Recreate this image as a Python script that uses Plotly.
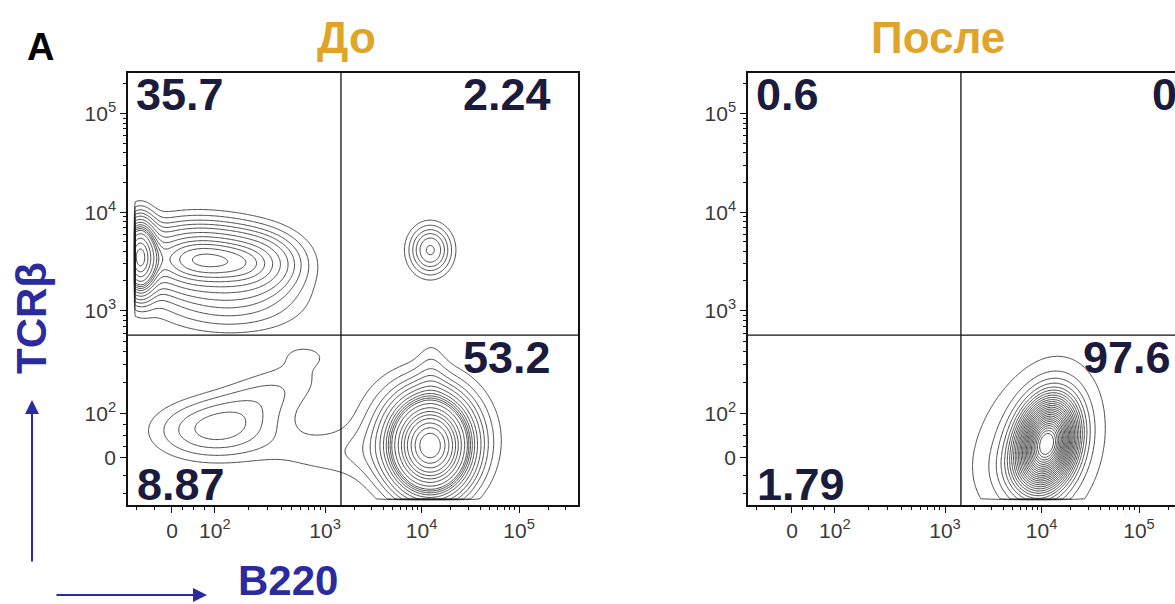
import numpy as np
import plotly.graph_objects as go

W, H = 1175, 604

# ---- axis scale (biexponential display units) ----
x_tick_vals = [0.0, 0.44, 1.57, 2.56, 3.56]
y_tick_vals = [0.0, 0.45, 1.49, 2.48, 3.48]
tick_text = ["0", "10<sup>2</sup>", "10<sup>3</sup>", "10<sup>4</sup>", "10<sup>5</sup>"]

x_range_pre = [-0.451, 4.164]
x_range_post = [-0.451, 3.929]
y_range = [-0.475, 3.889]

# off-scale floor where events pile up against the axes
x_floor = -0.38
y_floor = -0.42

# quadrant gate positions
gate_x = 1.733
gate_y = 1.242

# ---- populations, "До" (B220 x TCRb) ----
pre_cx = [-0.33, 0.25, 0.88, 0.60, 2.65, 2.65, 2.60, 2.66, 0.45, 0.90, 1.35, 1.60, 2.60]
pre_cy = [2.03, 2.01, 1.96, 1.55, 2.10, 0.12, 0.20, 0.85, 0.28, 0.60, 1.05, 0.05, 2.10]
pre_sx = [0.10, 0.42, 0.30, 0.50, 0.13, 0.22, 0.38, 0.10, 0.42, 0.45, 0.22, 0.45, 0.30]
pre_sy = [0.22, 0.22, 0.20, 0.20, 0.15, 0.26, 0.38, 0.25, 0.20, 0.25, 0.10, 0.18, 0.30]
pre_rho = [0.0, 0.0, 0.0, 0.0, 0.0, 0.0, 0.0, 0.0, 0.0, 0.6, 0.0, 0.0, 0.0]
pre_w = [8.0, 18.0, 5.7, 4.0, 1.9, 38.5, 14.3, 0.4, 4.5, 2.6, 0.25, 1.52, 0.34]

# ---- populations, "После" ----
post_cx = [2.62, 2.47, 2.30, 0.40, 0.30]
post_cy = [0.15, 0.08, -0.15, 0.20, 2.20]
post_sx = [0.20, 0.30, 0.20, 0.60, 0.60]
post_sy = [0.30, 0.36, 0.20, 0.40, 0.50]
post_rho = [0.2, 0.15, 0.0, 0.0, 0.0]
post_w = [80.0, 15.0, 2.6, 1.79, 0.6]

# quadrant percentages: upper-left, upper-right, lower-right, lower-left
pre_pct = ["35.7", "2.24", "53.2", "8.87"]
post_pct = ["0.6", "0", "97.6", "1.79"]

STEP = 0.0125


def mixture(xr, cx, cy, sx, sy, rho, w):
    xs = np.arange(xr[0], xr[1] + STEP, STEP)
    ys = np.arange(y_range[0], y_range[1] + STEP, STEP)
    X, Y = np.meshgrid(xs, ys)
    Z = np.zeros_like(X)
    for a, b, s, t, r, k in zip(cx, cy, sx, sy, rho, w):
        dx = (X - a) / s
        dy = (Y - b) / t
        q = (dx * dx - 2 * r * dx * dy + dy * dy) / (1 - r * r)
        Z += k * np.exp(-0.5 * q) / (2 * np.pi * s * t * np.sqrt(1 - r * r))
    Z[X < x_floor] = 0.0
    Z[Y < y_floor] = 0.0
    # probability-contour scale: share of events lying in less dense cells
    flat = Z.ravel()
    order = np.argsort(flat)
    cum = np.cumsum(flat[order])
    cum /= cum[-1]
    P = np.empty_like(flat)
    P[order] = cum
    return xs, ys, np.round(P.reshape(Z.shape), 4)


fig = go.Figure()

for xr, cx, cy, sx, sy, rho, w, xa, ya, lev in [
    (x_range_pre, pre_cx, pre_cy, pre_sx, pre_sy, pre_rho, pre_w, "x", "y", 0.05),
    (x_range_post, post_cx, post_cy, post_sx, post_sy, post_rho, post_w, "x2", "y2", 0.035),
]:
    xs, ys, P = mixture(xr, cx, cy, sx, sy, rho, w)
    fig.add_trace(go.Contour(
        x=np.round(xs, 4), y=np.round(ys, 4), z=P,
        xaxis=xa, yaxis=ya,
        contours=dict(coloring="none", start=lev, end=0.97, size=lev),
        line=dict(color="#1a1a1a", width=0.8, smoothing=0.8),
        showscale=False, hoverinfo="skip",
    ))

# ---- panel geometry (pixels) ----
L1, R1 = 128, 578
L2, R2 = 748, 1198
TOP, BOT = 73, 505


def px(v):
    return v / W


def py(v):
    return 1 - v / H


tick_font = dict(family="Liberation Sans, Arial", size=21, color="#3a3a3a")


def minor_ticks(ticks):
    out = []
    for i in range(1, len(ticks) - 1):
        d0, d1 = ticks[i], ticks[i + 1]
        for k in range(2, 10):
            out.append(round(d0 + np.log10(k) * (d1 - d0), 4))
    for k in range(1, 4):
        out.append(round(ticks[0] + k * (ticks[1] - ticks[0]) / 4, 4))
    for k in range(1, 3):
        out.append(round(ticks[0] - k * 0.18, 4))
    for k in (2, 3):
        out.append(round(ticks[-1] + np.log10(k) * (ticks[-1] - ticks[-2]), 4))
    return out


minor_x = minor_ticks(x_tick_vals)
minor_y = minor_ticks(y_tick_vals)

common_axis = dict(
    showgrid=False, zeroline=False, showline=True, linecolor="#111111", linewidth=1.5,
    ticks="outside", ticklen=6, tickwidth=1.2, tickcolor="#111111",
    tickmode="array", ticktext=tick_text, tickfont=tick_font,
)
minor_style = dict(ticks="outside", ticklen=3, tickcolor="#111111")

fig.update_layout(
    width=W, height=H, autosize=False,
    margin=dict(l=0, r=0, t=0, b=0),
    paper_bgcolor="white", plot_bgcolor="white",
    showlegend=False,
    xaxis=dict(common_axis, domain=[px(L1), px(R1)], range=x_range_pre,
               tickvals=x_tick_vals, mirror=True, anchor="y",
               minor=dict(minor_style, tickvals=minor_x)),
    yaxis=dict(common_axis, domain=[py(BOT), py(TOP)], range=y_range,
               tickvals=y_tick_vals, mirror=True, anchor="x",
               minor=dict(minor_style, tickvals=minor_y)),
    xaxis2=dict(common_axis, domain=[px(L2), 1.0], range=x_range_post,
                tickvals=x_tick_vals, mirror=True, anchor="y2",
                minor=dict(minor_style, tickvals=minor_x)),
    yaxis2=dict(common_axis, domain=[py(BOT), py(TOP)], range=y_range,
                tickvals=y_tick_vals, mirror=False, anchor="x2",
                minor=dict(minor_style, tickvals=minor_y)),
)

# quadrant gate lines
shapes = []
for xa, ya, xr in [("x", "y", x_range_pre), ("x2", "y2", x_range_post)]:
    shapes.append(dict(type="line", xref=xa, yref=ya, x0=gate_x, x1=gate_x,
                       y0=y_range[0], y1=y_range[1], line=dict(color="#111111", width=1.3)))
    shapes.append(dict(type="line", xref=xa, yref=ya, x0=xr[0], x1=xr[1],
                       y0=gate_y, y1=gate_y, line=dict(color="#111111", width=1.3)))
fig.update_layout(shapes=shapes)

pct_font = dict(family="Liberation Sans, Arial", size=45, color="#1b1b3d", weight="bold")
ann = []


def quad_labels(labels, left, right, gate_px_y):
    ul, ur, lr, ll = labels
    return [
        dict(text=ul, x=px(left + 6), y=py(95), xanchor="left"),
        dict(text=ur, x=px(right - 25), y=py(95), xanchor="right"),
        dict(text=lr, x=px(right - 25), y=py(gate_px_y + 22), xanchor="right"),
        dict(text=ll, x=px(left + 7), y=py(484), xanchor="left"),
    ]


for a in quad_labels(pre_pct, L1, R1, 335) + quad_labels(post_pct, L2, R2, 335):
    a.update(xref="paper", yref="paper", yanchor="middle", showarrow=False, font=pct_font)
    ann.append(a)
# upper-right label of the second panel sits at the page edge
ann[5].update(x=px(1150), xanchor="left")


def label(text, x, y, font, **kw):
    d = dict(text=text, x=px(x), y=py(y), xref="paper", yref="paper",
             xanchor="center", yanchor="middle", showarrow=False, font=font)
    d.update(kw)
    return d


title_font = dict(family="Liberation Sans, Arial", size=44, color="#E0A428", weight="bold")
ann.append(label("До", 346, 38, title_font))
ann.append(label("После", 938, 38, title_font))
ann.append(label("A", 40, 47, dict(family="Liberation Sans, Arial", size=38,
                                   color="#000000", weight="bold")))

blue = "#2b2ba0"
lab_font = dict(family="Liberation Sans, Arial", size=42, color=blue, weight="bold")
ann.append(label("TCRβ", 31, 318, lab_font, textangle=-90))
ann.append(label("B220", 288, 580, lab_font))
# axis direction arrows
ann.append(dict(text="", x=px(32), y=py(400), xref="paper", yref="paper",
                ax=0, ay=163, showarrow=True, arrowhead=2, arrowsize=1.4,
                arrowwidth=2, arrowcolor=blue, standoff=0))
ann.append(dict(text="", x=px(207), y=py(595), xref="paper", yref="paper",
                ax=-152, ay=0, showarrow=True, arrowhead=2, arrowsize=1.4,
                arrowwidth=2, arrowcolor=blue, standoff=0))

fig.update_layout(annotations=ann)
fig.write_html("out.html")
